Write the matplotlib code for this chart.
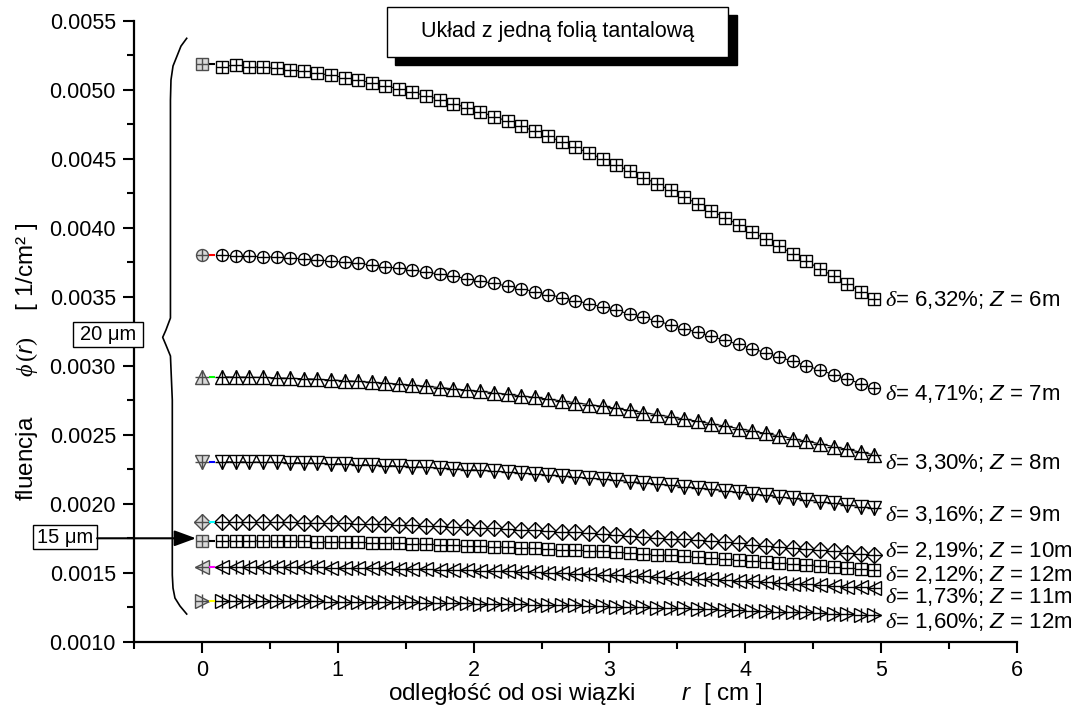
import matplotlib
matplotlib.use("Agg")
from matplotlib import pyplot as plt
from matplotlib.patches import Rectangle, FancyArrowPatch
from matplotlib.ticker import MultipleLocator, FormatStrFormatter

plt.rcParams['font.family'] = ['Liberation Sans', 'DejaVu Sans']
plt.rcParams['mathtext.fontset'] = 'custom'
plt.rcParams['mathtext.rm'] = 'Liberation Serif'
plt.rcParams['mathtext.it'] = 'Liberation Serif:italic'
plt.rcParams['mathtext.sf'] = 'Liberation Sans:italic'

# odleglosc od osi wiazki [cm]
r = [0.15, 0.25, 0.35, 0.45, 0.55, 0.65, 0.75, 0.85, 0.95, 1.05,
     1.15, 1.25, 1.35, 1.45, 1.55, 1.65, 1.75, 1.85, 1.95, 2.05,
     2.15, 2.25, 2.35, 2.45, 2.55, 2.65, 2.75, 2.85, 2.95, 3.05,
     3.15, 3.25, 3.35, 3.45, 3.55, 3.65, 3.75, 3.85, 3.95, 4.05,
     4.15, 4.25, 4.35, 4.45, 4.55, 4.65, 4.75, 4.85, 4.95]
r_key = 0.0    # punkt z kolorowym znacznikiem na poczatku krzywej
r_dash = 0.075

fl_6m = [0.005168, 0.005179, 0.005166, 0.005163, 0.005155, 0.005145, 0.005133, 0.005120, 0.005105, 0.005088,
         0.005070, 0.005050, 0.005029, 0.005006, 0.004982, 0.004956, 0.004929, 0.004900, 0.004870, 0.004839,
         0.004806, 0.004772, 0.004736, 0.004699, 0.004662, 0.004622, 0.004582, 0.004541, 0.004498, 0.004455,
         0.004410, 0.004364, 0.004318, 0.004271, 0.004222, 0.004173, 0.004124, 0.004073, 0.004022, 0.003970,
         0.003918, 0.003865, 0.003811, 0.003757, 0.003703, 0.003648, 0.003593, 0.003537, 0.003481]
fl_7m = [0.003799, 0.003797, 0.003794, 0.003791, 0.003786, 0.003781, 0.003775, 0.003767, 0.003759, 0.003750,
         0.003741, 0.003730, 0.003718, 0.003706, 0.003693, 0.003679, 0.003664, 0.003648, 0.003631, 0.003614,
         0.003596, 0.003577, 0.003558, 0.003537, 0.003516, 0.003494, 0.003472, 0.003449, 0.003425, 0.003401,
         0.003375, 0.003350, 0.003324, 0.003297, 0.003269, 0.003241, 0.003213, 0.003184, 0.003154, 0.003124,
         0.003094, 0.003063, 0.003032, 0.003000, 0.002968, 0.002935, 0.002903, 0.002870, 0.002836]
fl_8m = [0.002919, 0.002918, 0.002917, 0.002915, 0.002912, 0.002909, 0.002906, 0.002902, 0.002897, 0.002892,
         0.002886, 0.002880, 0.002874, 0.002867, 0.002859, 0.002851, 0.002842, 0.002833, 0.002824, 0.002814,
         0.002804, 0.002793, 0.002782, 0.002770, 0.002758, 0.002745, 0.002732, 0.002719, 0.002705, 0.002691,
         0.002676, 0.002661, 0.002645, 0.002630, 0.002614, 0.002597, 0.002580, 0.002563, 0.002545, 0.002528,
         0.002509, 0.002491, 0.002472, 0.002453, 0.002434, 0.002414, 0.002394, 0.002374, 0.002354]
fl_9m = [0.002304, 0.002303, 0.002302, 0.002301, 0.002300, 0.002298, 0.002296, 0.002293, 0.002291, 0.002288,
         0.002284, 0.002281, 0.002277, 0.002273, 0.002269, 0.002264, 0.002259, 0.002254, 0.002248, 0.002242,
         0.002236, 0.002230, 0.002223, 0.002216, 0.002209, 0.002202, 0.002194, 0.002186, 0.002178, 0.002170,
         0.002161, 0.002152, 0.002143, 0.002134, 0.002124, 0.002114, 0.002104, 0.002094, 0.002083, 0.002072,
         0.002061, 0.002050, 0.002039, 0.002027, 0.002016, 0.002004, 0.001992, 0.001979, 0.001967]
fl_10m = [0.001870, 0.001869, 0.001869, 0.001868, 0.001867, 0.001866, 0.001864, 0.001862, 0.001861, 0.001858,
          0.001856, 0.001854, 0.001851, 0.001848, 0.001845, 0.001841, 0.001838, 0.001834, 0.001830, 0.001826,
          0.001822, 0.001817, 0.001813, 0.001808, 0.001802, 0.001797, 0.001792, 0.001786, 0.001780, 0.001774,
          0.001768, 0.001762, 0.001755, 0.001748, 0.001741, 0.001734, 0.001727, 0.001720, 0.001712, 0.001704,
          0.001696, 0.001688, 0.001680, 0.001672, 0.001663, 0.001655, 0.001646, 0.001637, 0.001628]
fl_12m_a = [0.001732, 0.001731, 0.001731, 0.001730, 0.001729, 0.001728, 0.001727, 0.001725, 0.001724, 0.001722,
            0.001720, 0.001718, 0.001715, 0.001713, 0.001710, 0.001707, 0.001704, 0.001701, 0.001697, 0.001694,
            0.001690, 0.001686, 0.001682, 0.001678, 0.001673, 0.001668, 0.001664, 0.001659, 0.001654, 0.001648,
            0.001643, 0.001637, 0.001631, 0.001626, 0.001620, 0.001613, 0.001607, 0.001601, 0.001594, 0.001587,
            0.001580, 0.001573, 0.001566, 0.001559, 0.001551, 0.001544, 0.001536, 0.001528, 0.001520]
fl_11m = [0.001543, 0.001543, 0.001542, 0.001542, 0.001541, 0.001540, 0.001539, 0.001538, 0.001537, 0.001536,
          0.001534, 0.001533, 0.001531, 0.001529, 0.001527, 0.001525, 0.001523, 0.001520, 0.001518, 0.001515,
          0.001512, 0.001509, 0.001506, 0.001503, 0.001500, 0.001497, 0.001493, 0.001489, 0.001486, 0.001482,
          0.001478, 0.001474, 0.001470, 0.001465, 0.001461, 0.001456, 0.001451, 0.001447, 0.001442, 0.001437,
          0.001432, 0.001426, 0.001421, 0.001416, 0.001410, 0.001405, 0.001399, 0.001393, 0.001387]
fl_12m_b = [0.001295, 0.001295, 0.001295, 0.001294, 0.001294, 0.001293, 0.001293, 0.001292, 0.001291, 0.001290,
            0.001289, 0.001288, 0.001287, 0.001286, 0.001285, 0.001283, 0.001282, 0.001280, 0.001279, 0.001277,
            0.001275, 0.001273, 0.001271, 0.001269, 0.001267, 0.001265, 0.001263, 0.001260, 0.001258, 0.001255,
            0.001253, 0.001250, 0.001247, 0.001244, 0.001241, 0.001238, 0.001235, 0.001232, 0.001229, 0.001226,
            0.001222, 0.001219, 0.001215, 0.001212, 0.001208, 0.001204, 0.001201, 0.001197, 0.001193]

fl_start = [0.005186, 0.003802, 0.002920, 0.002304, 0.001870, 0.001732, 0.001543, 0.001295]

delta_txt = ['6,32', '4,71', '3,30', '3,16', '2,19', '2,12', '1,73', '1,60']
z_txt = ['6', '7', '8', '9', '10', '12', '11', '12']

series = [fl_6m, fl_7m, fl_8m, fl_9m, fl_10m, fl_12m_a, fl_11m, fl_12m_b]
markers = ['s', 'o', '^', 'v', 'D', 's', '<', '>']
msizes = [8, 8.6, 9.6, 9.6, 8.4, 8, 9.6, 9.6]
plus_sizes = [8, 8.6, 9.6, 9.6, 11.5, 8, 9.6, 9.6]
key_colors = ['black', 'red', 'lime', 'blue', 'cyan', 'black', 'magenta', 'yellow']
label_dy = [-0.7, -4, -6, -4.8, 3, -3.6, -6, -5]

fig = plt.figure(figsize=(10.77, 7.08), dpi=100)
ax = fig.add_axes([0.1244, 0.0936, 0.8199, 0.8771])

for vals, y0, mk, ms, pms, kc, d, z, dy in zip(series, fl_start, markers, msizes, plus_sizes,
                                               key_colors, delta_txt, z_txt, label_dy):
    ax.plot(r, vals, color='k', lw=0.8, zorder=2)
    ax.plot(r, vals, ls='none', marker=mk, ms=ms, mfc='white', mec='k', mew=1.0, zorder=3)
    ax.plot(r, vals, ls='none', marker='+', ms=pms, mec='k', mew=1.0, zorder=4)
    ax.plot([r_key], [y0], ls='none', marker=mk, ms=ms, mfc='0.85', mec='0.3', mew=1.0, zorder=3)
    ax.plot([r_key], [y0], ls='none', marker='+', ms=pms, mec='0.3', mew=1.0, zorder=4)
    ax.plot([r_dash], [y0], ls='none', marker='_', ms=4, mec=kc, mew=1.5, zorder=4)
    ax.annotate(r"$\delta$" + "= " + d + "%; " + r"$\mathsf{Z}$" + " = " + z + "m",
                xy=(r[-1], vals[-1]), xytext=(7.5, dy), textcoords='offset points',
                va='center', ha='left', fontsize=16, annotation_clip=False)

ax.set_xlim(-0.5, 6)
ax.set_ylim(0.0010, 0.0055)
ax.xaxis.set_major_locator(MultipleLocator(1))
ax.xaxis.set_minor_locator(MultipleLocator(0.5))
ax.yaxis.set_major_locator(MultipleLocator(0.0005))
ax.yaxis.set_minor_locator(MultipleLocator(0.00025))
ax.yaxis.set_major_formatter(FormatStrFormatter('%.4f'))
ax.xaxis.set_major_formatter(FormatStrFormatter('%d'))
ax.tick_params(which='major', length=8, width=1.5, labelsize=15.5, pad=5)
ax.tick_params(which='minor', length=5, width=1.5)
for side in ['top', 'right']:
    ax.spines[side].set_visible(False)
for side in ['left', 'bottom']:
    ax.spines[side].set_linewidth(1.6)

ax.set_xlabel("odległość od osi wiązki" + " " * 7 + r"$\mathsf{r}$" + "  [ cm ]", fontsize=17.5, labelpad=0)
ax.set_ylabel("fluencja" + " " * 6 + r"$\phi\,(\mathsf{r})$" + " " * 4 + "[ 1/cm² ]", fontsize=17.5)
ax.yaxis.set_label_coords(-0.1065, 0.4504)

# klamra przy osi y
brace_x = [0.0597, 0.0532, 0.0484, 0.0442, 0.0419, 0.0413, 0.0413, 0.0362, 0.0325, 0.0362, 0.0413,
           0.0434, 0.0434, 0.0442, 0.0464, 0.0521, 0.0597]
brace_y = [0.9717, 0.9591, 0.9420, 0.9271, 0.9046, 0.8723, 0.5213, 0.5020, 0.4902, 0.4778, 0.4601,
           0.3892, 0.1074, 0.0865, 0.0704, 0.0575, 0.0446]
ax.plot(brace_x, brace_y, color='k', lw=1.2, transform=ax.transAxes, clip_on=False)

# tytul w ramce z cieniem
fig.add_artist(Rectangle((0.3672, 0.9082), 0.3172, 0.0706, transform=fig.transFigure,
                         facecolor='black', edgecolor='black', zorder=5))
fig.add_artist(Rectangle((0.3591, 0.9199), 0.3172, 0.0706, transform=fig.transFigure,
                         facecolor='white', edgecolor='black', lw=1.0, zorder=6))
fig.text(0.5177, 0.9552, "Układ z jedną folią tantalową", ha='center', va='center',
         fontsize=15.5, zorder=7)

# ramki z grubosciami folii
fig.add_artist(Rectangle((0.0678, 0.5103), 0.0647, 0.0349, transform=fig.transFigure,
                         facecolor='white', edgecolor='black', lw=1.0, zorder=6))
fig.text(0.1003, 0.5278, "20 μm", ha='center', va='center', fontsize=14.5, zorder=7)
fig.add_artist(Rectangle((0.0309, 0.2242), 0.0589, 0.0343, transform=fig.transFigure,
                         facecolor='white', edgecolor='black', lw=1.0, zorder=6))
fig.text(0.0604, 0.2415, "15 μm", ha='center', va='center', fontsize=14.5, zorder=7)
fig.add_artist(FancyArrowPatch((0.0901, 0.2397), (0.182, 0.2397), transform=fig.transFigure,
                               arrowstyle='-|>,head_length=0.6,head_width=0.22', mutation_scale=22,
                               lw=1.5, color='k', shrinkA=0, shrinkB=0, zorder=6))

plt.savefig("out.png", dpi=100)
plt.close()
